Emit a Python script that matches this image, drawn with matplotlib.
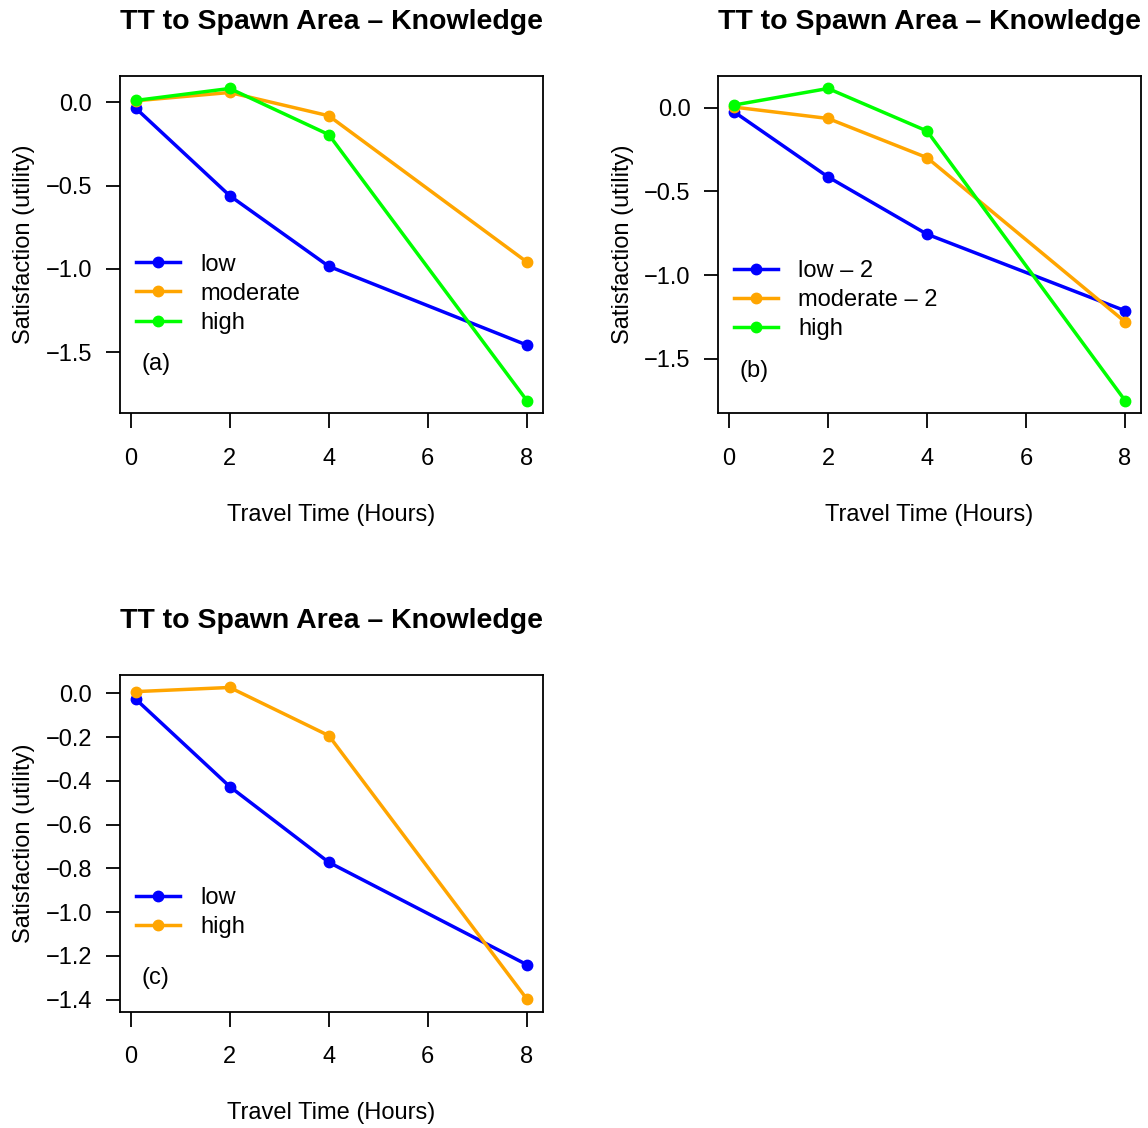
import matplotlib
matplotlib.use("Agg")
import matplotlib.pyplot as plt

plt.rcParams['font.family'] = ['Liberation Sans', 'DejaVu Sans']

hours = [0.1, 2, 4, 8]

# panel (a)
a_low = [-0.034, -0.56, -0.984, -1.457]
a_moderate = [0.01, 0.06, -0.08, -0.958]
a_high = [0.012, 0.084, -0.193, -1.79]

# panel (b)
b_low2 = [-0.024, -0.413, -0.755, -1.212]
b_moderate2 = [0.004, -0.064, -0.298, -1.278]
b_high = [0.016, 0.115, -0.139, -1.748]

# panel (c)
c_low = [-0.026, -0.426, -0.772, -1.24]
c_high = [0.008, 0.027, -0.193, -1.397]

title = "TT to Spawn Area \u2013 Knowledge"
BLUE, ORANGE, GREEN = "#0000FF", "#FFA500", "#00FF00"
FS = 17

fig = plt.figure(figsize=(11.48, 11.28), dpi=100)
W, H = 1148, 1128


def make_ax(left, top, right, bottom):
    return fig.add_axes([left / W, 1 - bottom / H, (right - left) / W, (bottom - top) / H])


def style(ax, series, yticks, leg_y, tag, tag_y):
    for vals, col, lab in series:
        ax.plot(hours, vals, color=col, lw=2.5, marker='o', ms=7.5, label=lab)
    allv = [v for s in series for v in s[0]]
    lo, hi = min(allv), max(allv)
    pad = (hi - lo) * 0.04
    ax.set_ylim(lo - pad, hi + pad)
    ax.set_xlim(0.1 - 7.9 * 0.04, 8 + 7.9 * 0.04)
    ax.set_xticks([0, 2, 4, 6, 8])
    ax.set_yticks(yticks)
    ax.set_yticklabels(["{:.1f}".format(t).replace('-', '\u2212') for t in yticks])
    ax.tick_params(axis='x', length=11, width=1.3, pad=14, labelsize=FS)
    ax.tick_params(axis='y', length=10, width=1.3, pad=10, labelsize=FS)
    for sp in ax.spines.values():
        sp.set_linewidth(1.3)
    ax.set_title(title, fontsize=20.5, fontweight='bold', pad=34)
    ax.set_xlabel("Travel Time (Hours)", fontsize=FS)
    ax.set_ylabel("Satisfaction (utility)", fontsize=FS)
    ax.xaxis.set_label_coords(0.5, -0.27)
    ax.yaxis.set_label_coords(-0.200, 0.5)
    ax.legend(loc='upper left', bbox_to_anchor=(0.038, leg_y), frameon=False,
              fontsize=FS, handlelength=1.86, handletextpad=0.85,
              labelspacing=0.3, borderpad=0, borderaxespad=0)
    ax.text(0.051, tag_y, tag, transform=ax.transAxes, fontsize=FS,
            ha='left', va='center')


ax1 = make_ax(120, 76, 542.5, 413)
style(ax1, [(a_low, BLUE, "low"), (a_moderate, ORANGE, "moderate"), (a_high, GREEN, "high")],
      [0.0, -0.5, -1.0, -1.5], 0.473, "(a)", 0.145)

ax2 = make_ax(718.3, 76, 1140.7, 413)
style(ax2, [(b_low2, BLUE, "low \u2013 2"), (b_moderate2, ORANGE, "moderate \u2013 2"), (b_high, GREEN, "high")],
      [0.0, -0.5, -1.0, -1.5], 0.454, "(b)", 0.126)

ax3 = make_ax(120, 675, 542.5, 1011.5)
style(ax3, [(c_low, BLUE, "low"), (c_high, ORANGE, "high")],
      [0.0, -0.2, -0.4, -0.6, -0.8, -1.0, -1.2, -1.4], 0.370, "(c)", 0.099)

fig.savefig("out.png", dpi=100)
